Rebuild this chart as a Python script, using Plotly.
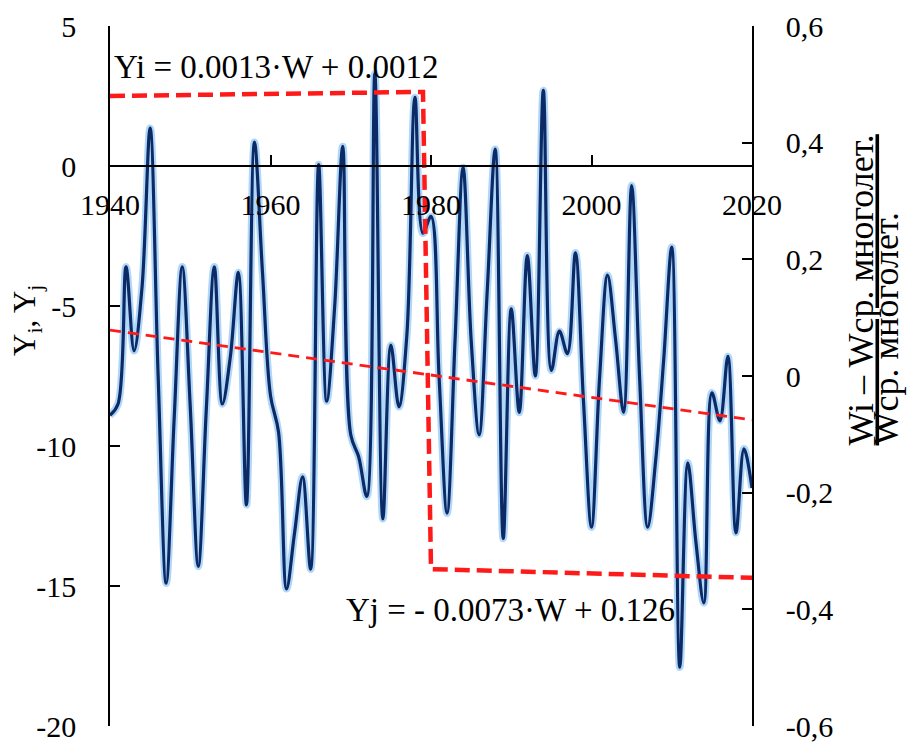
import plotly.graph_objects as go

years = list(range(1940, 2021))
y_values = [
    -8.9, -8.5, -3.6, -6.6, -4.3, 1.35, -7.5, -14.9, -9.0, -3.6,
    -8.6, -14.3, -8.7, -3.6, -8.5, -6.8, -3.8, -12.1, 0.85, -3.8,
    -8.2, -9.5, -15.1, -13.1, -11.1, -14.4, 0.05, -8.4, -5.0, 0.7,
    -9.6, -10.4, -11.8, 3.3, -12.6, -6.4, -8.6, -6.0, 2.45, -2.4,
    -1.8, -7.5, -12.4, -6.2, -0.05, -6.2, -9.6, -4.5, 0.6, -13.3,
    -5.1, -8.8, -3.2, -7.5, 2.7, -7.3, -5.9, -6.7, -3.1, -8.4,
    -12.9, -7.6, -3.9, -6.2, -8.8, -0.7, -7.6, -12.9, -10.5, -6.9,
    -2.9, -17.9, -10.6, -13.4, -15.6, -8.1, -9.1, -6.8, -13.1, -10.1,
    -11.5,
]

# step (modular coefficient) line, right axis
step_x = [1940, 1979, 1980, 2020]
step_y = [0.480, 0.487, -0.331, -0.346]

# linear trend, left axis
trend_x = [1940, 2020]
trend_y = [-5.86, -9.07]

x_ticks = [1940, 1960, 1980, 2000, 2020]
y_ticks = [-20, -15, -10, -5, 0, 5]
y_ticktext = ["-20", "-15", "-10", "-5", "0", "5"]
y2_ticks = [-0.6, -0.4, -0.2, 0, 0.2, 0.4, 0.6]
y2_ticktext = ["-0,6", "-0,4", "-0,2", "0", "0,2", "0,4", "0,6"]

FONT = "Liberation Serif, Times New Roman, serif"

fig = go.Figure()

fig.add_trace(go.Scatter(
    x=years, y=y_values, mode="lines",
    line=dict(color="rgba(150,200,245,0.75)", width=7.5, shape="spline", smoothing=1.0),
    hoverinfo="skip", showlegend=False,
))
fig.add_trace(go.Scatter(
    x=years, y=y_values, mode="lines",
    line=dict(color="#0c2a66", width=3.2, shape="spline", smoothing=1.0),
    showlegend=False,
))
fig.add_trace(go.Scatter(
    x=trend_x, y=trend_y, mode="lines",
    line=dict(color="#ff1a1a", width=2.8, dash="11px,7px"),
    showlegend=False,
))
fig.add_trace(go.Scatter(
    x=step_x, y=step_y, mode="lines", yaxis="y2",
    line=dict(color="#ff1a1a", width=4.5, dash="15px,7px"),
    showlegend=False,
))

fig.update_layout(
    width=910, height=734,
    margin=dict(l=102, r=166, t=18, b=16, autoexpand=False),
    paper_bgcolor="white", plot_bgcolor="white",
    font=dict(family=FONT, size=30, color="black"),
    xaxis=dict(
        range=[1940, 2020], anchor="free", position=0.8, automargin=False,
        showline=True, linecolor="black", linewidth=1.5,
        ticks="inside", ticklen=10, tickwidth=1.5, tickcolor="black",
        tickvals=x_ticks, ticktext=[str(v) for v in x_ticks],
        showgrid=False, zeroline=False, ticklabelstandoff=12,
        ticklabeloverflow="allow",
        tickfont=dict(family=FONT, size=30),
    ),
    yaxis=dict(
        range=[-20, 5], showline=True, linecolor="black", linewidth=1.5,
        automargin=False, ticklabeloverflow="allow",
        ticks="inside", ticklen=10, tickwidth=1.5, tickcolor="black",
        tickvals=y_ticks, ticktext=y_ticktext,
        showgrid=False, zeroline=False, ticklabelstandoff=26,
        tickfont=dict(family=FONT, size=30),
    ),
    yaxis2=dict(
        range=[-0.6, 0.6], overlaying="y", side="right", automargin=False,
        ticklabeloverflow="allow",
        showline=True, linecolor="black", linewidth=1.5,
        ticks="inside", ticklen=10, tickwidth=1.5, tickcolor="black",
        tickvals=y2_ticks, ticktext=y2_ticktext,
        showgrid=False, zeroline=False, ticklabelstandoff=26,
        tickfont=dict(family=FONT, size=30),
    ),
)

fig.add_annotation(
    x=1940.3, y=3.54, xref="x", yref="y", text="Yi = 0.0013·W + 0.0012",
    showarrow=False, xanchor="left", yanchor="middle",
    font=dict(family=FONT, size=33),
)
fig.add_annotation(
    x=1969.2, y=-15.86, xref="x", yref="y", text="Yj = - 0.0073·W + 0.126",
    showarrow=False, xanchor="left", yanchor="middle",
    font=dict(family=FONT, size=33),
)
fig.add_annotation(
    x=-0.129, y=0.579, xref="paper", yref="paper",
    text="Y<sub>i</sub>, Y<sub>j</sub>", textangle=-90,
    showarrow=False, xanchor="center", yanchor="middle",
    font=dict(family=FONT, size=31),
)
fig.add_annotation(
    x=1.1713, y=0.3986, xref="paper", yref="paper",
    text="<u>Wi – Wср. многолет.</u>", textangle=-90,
    showarrow=False, xanchor="center", yanchor="bottom",
    font=dict(family=FONT, size=36),
)
fig.add_annotation(
    x=1.2087, y=0.3986, xref="paper", yref="paper",
    text="Wср. многолет.", textangle=-90,
    showarrow=False, xanchor="center", yanchor="bottom",
    font=dict(family=FONT, size=36),
)

fig.write_html("out.html")
